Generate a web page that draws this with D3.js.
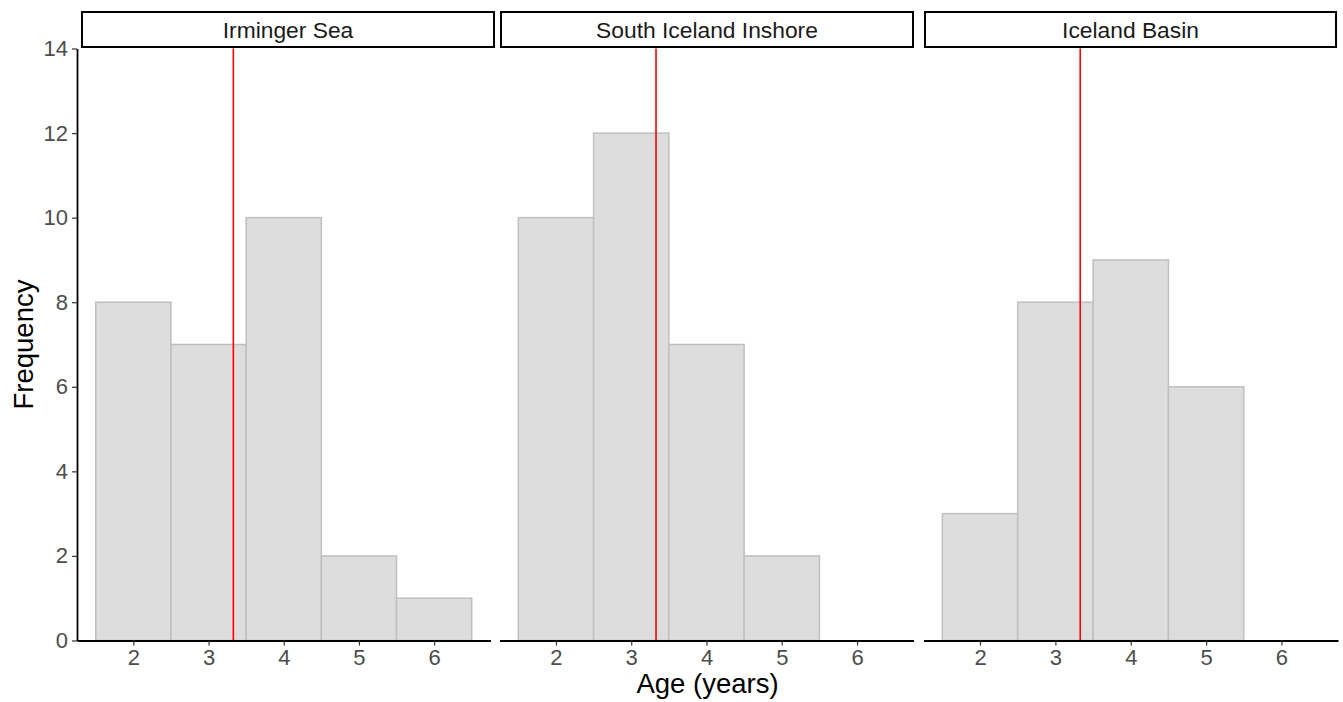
<!DOCTYPE html>
<html>
<head>
<meta charset="utf-8">
<script src="https://cdnjs.cloudflare.com/ajax/libs/d3/7.8.5/d3.min.js"></script>
<style>
  body { margin: 0; background: #fff; }
  svg { display: block; font-family: "Liberation Sans", Arial, Helvetica, sans-serif; }
</style>
</head>
<body>
<svg width="1343" height="702"></svg>
<script>
// facet names, bin centres and counts per facet
var regions = ["Irminger Sea", "South Iceland Inshore", "Iceland Basin"];
var ages = [2, 3, 4, 5, 6];
var irmingerCounts = [8, 7, 10, 2, 1];
var southInshoreCounts = [10, 12, 7, 2, 0];
var basinCounts = [3, 8, 9, 6, 0];
var yTicks = [0, 2, 4, 6, 8, 10, 12, 14];

var counts = [irmingerCounts, southInshoreCounts, basinCounts];

// overall mean age (red line), same in every panel
var total = 0, sum = 0;
counts.forEach(function(c) {
  c.forEach(function(n, i) { total += n; sum += n * ages[i]; });
});
var meanAge = sum / total;

var svg = d3.select("svg"),
    panelTop = 48.5, panelBottom = 640.5,
    panels = [[77, 490.5], [499.5, 913.5], [923.5, 1338]],
    strips = [[82, 494], [501, 913], [925, 1336]];

var y = d3.scaleLinear()
    .domain([0, 14])
    .range([panelBottom, panelTop]);

regions.forEach(function(name, p) {
  var x = d3.scaleLinear()
      .domain([1.25, 6.75])
      .range(panels[p]);

  var g = svg.append("g");

  var bins = ages.map(function(a, i) { return {x0: a - 0.5, x1: a + 0.5, n: counts[p][i]}; })
      .filter(function(d) { return d.n > 0; });

  g.selectAll(".bar")
    .data(bins)
    .enter().append("rect")
      .attr("class", "bar")
      .attr("x", function(d) { return x(d.x0); })
      .attr("y", function(d) { return y(d.n); })
      .attr("width", function(d) { return x(d.x1) - x(d.x0); })
      .attr("height", function(d) { return y(0) - y(d.n); })
      .attr("fill", "#dddddd")
      .attr("stroke", "#bfbfbf")
      .attr("stroke-width", 1.5);

  g.append("line")
      .attr("x1", x(meanAge)).attr("x2", x(meanAge))
      .attr("y1", panelTop).attr("y2", panelBottom)
      .attr("stroke", "#ff0000")
      .attr("stroke-width", 1.6);

  var xAxis = g.append("g")
      .attr("transform", "translate(0," + panelBottom + ")")
      .call(d3.axisBottom(x).tickValues(ages).tickFormat(d3.format("d"))
        .tickSize(5).tickSizeOuter(0).tickPadding(4));
  styleAxis(xAxis);

  if (p === 0) {
    var yAxis = g.append("g")
        .attr("transform", "translate(" + panels[p][0] + ",0)")
        .call(d3.axisLeft(y).tickValues(yTicks).tickFormat(d3.format("d"))
          .tickSize(5).tickSizeOuter(0).tickPadding(4));
    styleAxis(yAxis);
  }

  // strip
  g.append("rect")
      .attr("x", strips[p][0])
      .attr("y", 12)
      .attr("width", strips[p][1] - strips[p][0])
      .attr("height", 35)
      .attr("fill", "#fff")
      .attr("stroke", "#000")
      .attr("stroke-width", 2);

  g.append("text")
      .attr("x", (strips[p][0] + strips[p][1]) / 2)
      .attr("y", 37.5)
      .attr("text-anchor", "middle")
      .attr("font-size", 22.8)
      .attr("fill", "#1a1a1a")
      .text(name);
});

function styleAxis(a) {
  a.select(".domain").attr("stroke", "#000").attr("stroke-width", 1.8);
  a.selectAll(".tick line").attr("stroke", "#333").attr("stroke-width", 1.2);
  a.selectAll(".tick text").attr("fill", "#4d4d4d").attr("font-size", 22)
      .attr("font-family", "Liberation Sans, Arial, Helvetica, sans-serif");
}

svg.append("text")
    .attr("transform", "translate(33," + (panelTop + panelBottom) / 2 + ") rotate(-90)")
    .attr("text-anchor", "middle")
    .attr("font-size", 27.5)
    .text("Frequency");

svg.append("text")
    .attr("x", (panels[0][0] + panels[2][1]) / 2)
    .attr("y", 693)
    .attr("text-anchor", "middle")
    .attr("font-size", 27.5)
    .text("Age (years)");
</script>
</body>
</html>
